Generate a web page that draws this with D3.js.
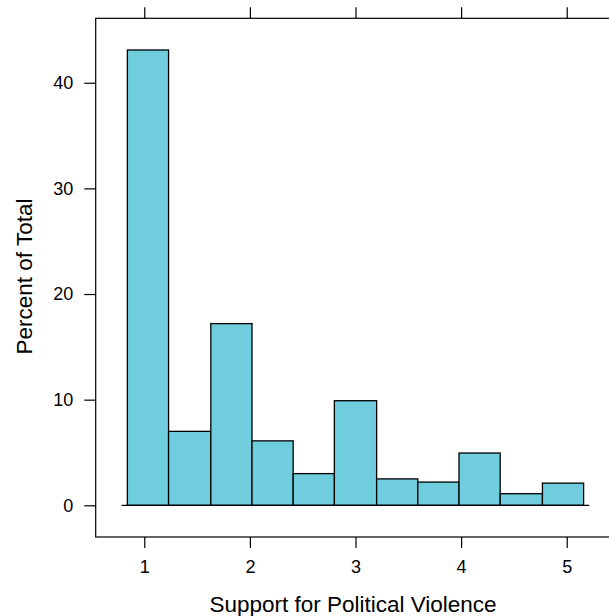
<!DOCTYPE html>
<html>
<head>
<meta charset="utf-8">
<script src="https://cdn.jsdelivr.net/npm/d3@7"></script>
<style>
    body { margin: 0; background: #fff; }
    text { font-family: "Liberation Sans", Arial, sans-serif; fill: #000; }
</style>
</head>
<body>
<div id="chart"></div>
<script>
// histogram bins (break points) and percent of total per bin
const breaks = [0.84, 1.23, 1.63, 2.02, 2.41, 2.80, 3.20, 3.59, 3.98, 4.37, 4.77, 5.16];
const percents = [43.1, 7.0, 17.2, 6.1, 3.0, 9.9, 2.5, 2.2, 4.95, 1.1, 2.1];
const xTicks = [1, 2, 3, 4, 5];
const yTicks = [0, 10, 20, 30, 40];
const xLabel = "Support for Political Violence";
const yLabel = "Percent of Total";

const bins = percents.map((p, i) => ({x0: breaks[i], x1: breaks[i + 1], pct: p}));

const width = 609, height = 616;
const panel = {left: 95.7, right: 615.3, top: 18.3, bottom: 537};

let svg = d3.select("#chart").append("svg")
    .attr("width", width)
    .attr("height", height);

let x = d3.scaleLinear()
    .domain([0.54, 5.46])
    .range([panel.left, panel.right]);

let y = d3.scaleLinear()
    .domain([-3.0, 46.1])
    .range([panel.bottom, panel.top]);

// bars
svg.append("g").selectAll(".bar")
    .data(bins)
    .enter().append("rect")
    .attr("class", "bar")
    .attr("x", d => x(d.x0))
    .attr("y", d => y(d.pct))
    .attr("width", d => x(d.x1) - x(d.x0))
    .attr("height", d => y(0) - y(d.pct))
    .attr("fill", "#70CDDD")
    .attr("stroke", "#000")
    .attr("stroke-width", 1.3);

// baseline at zero
svg.append("line")
    .attr("x1", x(0.786))
    .attr("x2", x(5.214))
    .attr("y1", y(0))
    .attr("y2", y(0))
    .attr("stroke", "#000")
    .attr("stroke-width", 1.3);

// panel box
svg.append("rect")
    .attr("x", panel.left)
    .attr("y", panel.top)
    .attr("width", panel.right - panel.left)
    .attr("height", panel.bottom - panel.top)
    .attr("fill", "none")
    .attr("stroke", "#000")
    .attr("stroke-width", 1.2);

// axes
let fontTick = 18;
svg.append("g")
    .attr("transform", `translate(${panel.left},0)`)
    .call(d3.axisLeft(y).tickValues(yTicks).tickSize(11.4).tickPadding(11).tickFormat(d3.format("d")))
    .call(g => g.select(".domain").remove())
    .call(g => g.selectAll("line").attr("stroke-width", 1.2))
    .call(g => g.selectAll("text").attr("font-size", fontTick).style("font-family", "Liberation Sans, Arial, sans-serif"));

svg.append("g")
    .attr("transform", `translate(0,${panel.bottom})`)
    .call(d3.axisBottom(x).tickValues(xTicks).tickSize(11).tickPadding(12.5).tickFormat(d3.format("d")))
    .call(g => g.select(".domain").remove())
    .call(g => g.selectAll("line").attr("stroke-width", 1.2))
    .call(g => g.selectAll("text").attr("font-size", fontTick).style("font-family", "Liberation Sans, Arial, sans-serif"));

svg.append("g")
    .attr("transform", `translate(0,${panel.top})`)
    .call(d3.axisTop(x).tickValues(xTicks).tickSize(11).tickFormat(""))
    .call(g => g.select(".domain").remove())
    .call(g => g.selectAll("line").attr("stroke-width", 1.2));

// axis labels
svg.append("text")
    .attr("x", 353)
    .attr("y", 611.5)
    .attr("text-anchor", "middle")
    .attr("font-size", 22.5)
    .text(xLabel);

svg.append("text")
    .attr("transform", `translate(31.7, 276.5) rotate(-90)`)
    .attr("text-anchor", "middle")
    .attr("font-size", 22.5)
    .text(yLabel);
</script>
</body>
</html>
